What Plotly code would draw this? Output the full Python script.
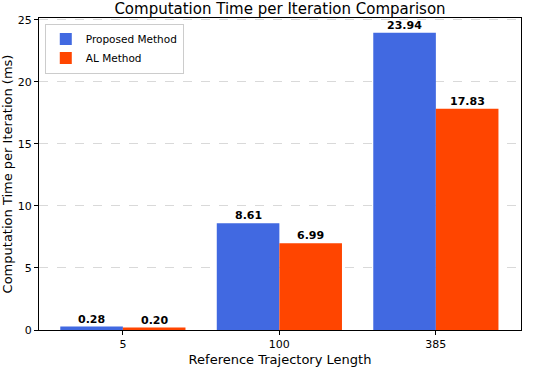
import plotly.graph_objects as go

categories = ["5", "100", "385"]
proposed = [0.28, 8.61, 23.94]
al_method = [0.20, 6.99, 17.83]
series_names = ["Proposed Method", "AL Method"]
y_ticks = [0, 5, 10, 15, 20, 25]

FONT = "DejaVu Sans"
fig = go.Figure()
series = [(series_names[0], proposed, "#4169E1", -0.2), (series_names[1], al_method, "#FF4500", 0.2)]
for name, vals, color, _ in series:
    fig.add_trace(go.Bar(
        x=categories, y=vals, name=name,
        marker=dict(color=color, line=dict(width=0)),
    ))

# value labels above bars (bold)
for name, vals, color, off in series:
    for i, v in enumerate(vals):
        fig.add_annotation(
            x=i + off, y=v, xref="x", yref="y",
            text=f"<b>{v:.2f}</b>", showarrow=False,
            xanchor="center", yanchor="bottom", yshift=-1,
            font=dict(family=FONT, size=11, color="black"),
        )

fig.update_layout(
    width=542, height=368,
    margin=dict(l=39, r=21, t=18, b=38),
    plot_bgcolor="white", paper_bgcolor="white",
    barmode="group", bargap=0.2, bargroupgap=0,
    font=dict(family=FONT, size=11, color="black"),
    title=dict(text="Computation Time per Iteration Comparison", x=0.5, xanchor="center", xref="paper",
               y=0.975, yanchor="middle", yref="container",
               font=dict(family=FONT, size=15, color="black")),
    legend=dict(x=0.012, y=0.982, xanchor="left", yanchor="top",
                bordercolor="#cccccc", borderwidth=1, bgcolor="rgba(255,255,255,0.8)",
                font=dict(family=FONT, size=10.5), tracegroupgap=0, itemwidth=30),
)
fig.update_xaxes(
    type="category", range=[-0.536, 2.544], automargin=False,
    showline=True, linecolor="black", linewidth=1, mirror=True,
    ticks="outside", ticklen=4, tickcolor="black",
    title=dict(text="Reference Trajectory Length", font=dict(family=FONT, size=13), standoff=4),
    tickfont=dict(family=FONT, size=11),
)
fig.update_yaxes(
    range=[0, 25.137], tickvals=y_ticks, automargin=False,
    showline=True, linecolor="black", linewidth=1, mirror=True,
    ticks="outside", ticklen=4, tickcolor="black",
    showgrid=True, gridcolor="#d9d9d9", griddash="dash", gridwidth=1,
    zeroline=False,
    title=dict(text="Computation Time per Iteration (ms)", font=dict(family=FONT, size=13), standoff=3),
    tickfont=dict(family=FONT, size=11),
)

fig.write_html("out.html", config={"displayModeBar": False},
               post_script="document.body.style.margin='0';")
